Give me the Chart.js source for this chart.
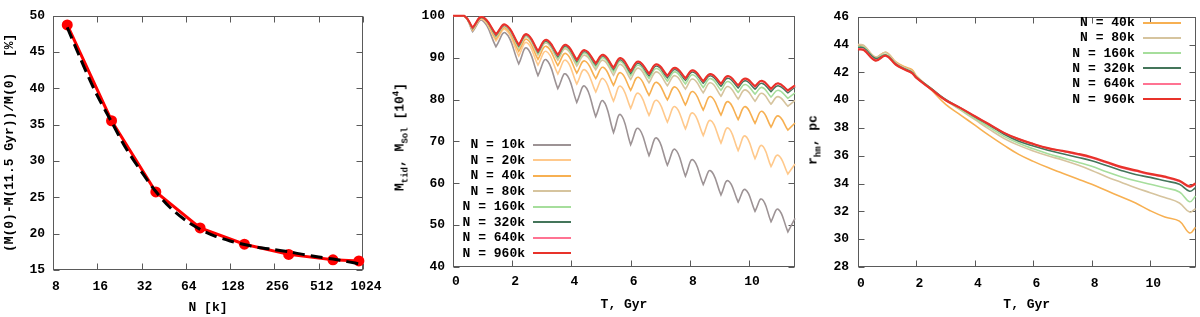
<!DOCTYPE html>
<html><head><meta charset="utf-8">
<script src="https://cdn.jsdelivr.net/npm/chart.js@4.4.1/dist/chart.umd.min.js"></script>
<style>
html,body{margin:0;padding:0;background:#fff;width:1200px;height:317px;overflow:hidden;position:relative;}
canvas{position:absolute;top:0;}
.ytitle{position:absolute;white-space:pre;font:bold 13px 'Liberation Mono','DejaVu Sans Mono',monospace;color:#000;transform:translate(-50%,-50%) rotate(-90deg);}
.ytitle sub,.ytitle sup{font-size:9px;line-height:0;}
.lrow{position:absolute;height:16px;display:flex;align-items:center;white-space:pre;font:bold 13px 'Liberation Mono','DejaVu Sans Mono',monospace;color:#000;}
.lrow i{display:inline-block;width:38px;height:2px;margin-left:8px;}
</style></head><body>
<canvas id="c1" width="400" height="317" style="left:0px"></canvas>
<canvas id="c2" width="405" height="317" style="left:395px"></canvas>
<canvas id="c3" width="400" height="317" style="left:800px"></canvas>
<div class="ytitle" style="left:400px;top:137px">M<sub>tid</sub>, M<sub>Sol</sub> [10<sup>4</sup>]</div>
<div class="ytitle" style="left:813px;top:140px">r<sub>hm</sub>, pc</div>
<script>
// ---------- Panel 1: mass loss vs N ----------
const lossN = [10, 20, 40, 80, 160, 320, 640, 960];
const lossPct = [48.75, 35.55, 25.75, 20.8, 18.55, 17.15, 16.4, 16.25];
const fitN = [10, 12, 14, 16, 20, 25, 32, 40, 50, 64, 80, 100, 128, 160, 200, 256, 320, 400, 512, 640, 800, 1024];
const fitPct = [48.4, 44.6, 41.5, 39.0, 35.4, 31.8, 28.5, 25.8, 23.6, 21.8, 20.6, 19.7, 19.0, 18.5, 18.1, 17.8, 17.5, 17.15, 16.8, 16.5, 16.15, 15.75];
const lossXTicks = [8, 16, 32, 64, 128, 256, 512, 1024];
const lossYTicks = [15, 20, 25, 30, 35, 40, 45, 50];

// ---------- Panel 2: tidal mass vs time ----------
const mtidLabels = ['N = 10k', 'N = 20k', 'N = 40k', 'N = 80k', 'N = 160k', 'N = 320k', 'N = 640k', 'N = 960k'];
const mtidStartT = [0, 0.38];
const mtidStartV = [100, 100];
const mtidDipT = [0.66, 1.45, 2.22, 2.87, 3.54, 4.18, 4.82, 5.42, 6.00, 6.62, 7.24, 7.85, 8.45, 9.05, 9.63, 10.20, 10.74, 11.31];
const mtidPeakT = [0.99, 1.77, 2.49, 3.15, 3.81, 4.45, 5.07, 5.66, 6.26, 6.88, 7.50, 8.10, 8.70, 9.29, 9.87, 10.43, 10.98];
const mtidEndT = 11.55;
const mtid10kDip  = [96.2, 92.6, 88.5, 85.7, 82.6, 79.3, 75.9, 72.1, 69.2, 66.6, 64.3, 61.7, 59.7, 57.2, 55.5, 53.3, 50.8, 48.4];
const mtid10kPeak = [98.9, 95.9, 92.3, 89.5, 86.1, 83.2, 79.7, 76.4, 73.1, 70.8, 68.1, 65.6, 63.0, 60.6, 58.5, 56.2, 53.8];
const mtid20kDip  = [96.5, 94.0, 90.4, 88.2, 86.1, 83.7, 81.8, 79.6, 77.9, 76.2, 74.6, 73.0, 71.4, 69.6, 67.8, 65.9, 64.0, 62.2];
const mtid20kPeak = [99.2, 96.7, 93.6, 91.5, 89.4, 87.1, 85.0, 83.2, 81.5, 79.8, 78.3, 76.8, 75.0, 73.2, 71.3, 69.0, 66.7];
const mtid40kDip  = [96.7, 94.5, 91.5, 89.6, 88.1, 86.3, 85.0, 83.4, 82.2, 81.0, 79.9, 78.7, 77.5, 76.3, 75.2, 74.3, 73.4, 72.7];
const mtid40kPeak = [99.4, 97.1, 94.4, 92.7, 91.0, 89.2, 87.7, 86.4, 85.3, 84.1, 83.0, 81.9, 80.7, 79.5, 78.3, 77.2, 76.1];
const mtid80kDip  = [96.8, 94.9, 92.2, 90.6, 89.4, 88.0, 87.1, 85.8, 84.8, 84.0, 83.3, 82.5, 81.6, 80.8, 80.1, 79.6, 78.9, 78.4];
const mtid80kPeak = [99.5, 97.4, 95.0, 93.5, 92.1, 90.6, 89.4, 88.4, 87.5, 86.6, 85.7, 84.9, 84.0, 83.1, 82.3, 81.5, 80.7];
const mtid160kDip  = [96.9, 95.1, 92.5, 91.0, 89.9, 88.6, 87.8, 86.6, 85.7, 85.0, 84.4, 83.7, 82.9, 82.2, 81.7, 81.3, 80.6, 80.3];
const mtid160kPeak = [99.6, 97.6, 95.2, 93.8, 92.5, 91.1, 90.0, 89.1, 88.2, 87.4, 86.6, 85.9, 85.0, 84.3, 83.6, 82.9, 82.2];
const mtid320kDip  = [97.0, 95.3, 92.8, 91.3, 90.3, 89.1, 88.3, 87.2, 86.3, 85.7, 85.2, 84.6, 83.9, 83.2, 82.8, 82.5, 81.9, 81.6];
const mtid320kPeak = [99.6, 97.7, 95.4, 94.0, 92.8, 91.5, 90.4, 89.5, 88.7, 88.0, 87.2, 86.6, 85.7, 85.1, 84.5, 83.9, 83.3];
const mtid640kDip  = [97.1, 95.5, 93.0, 91.5, 90.6, 89.4, 88.6, 87.5, 86.7, 86.1, 85.6, 85.0, 84.3, 83.7, 83.3, 83.0, 82.4, 82.0];
const mtid640kPeak = [99.7, 97.8, 95.5, 94.2, 93.0, 91.7, 90.6, 89.8, 89.0, 88.3, 87.5, 86.9, 86.0, 85.5, 84.9, 84.4, 83.8];
const mtid960kDip  = [97.2, 95.6, 93.1, 91.6, 90.7, 89.5, 88.7, 87.6, 86.8, 86.2, 85.7, 85.1, 84.4, 83.8, 83.4, 83.2, 82.6, 82.2];
const mtid960kPeak = [99.7, 97.9, 95.6, 94.3, 93.1, 91.8, 90.7, 89.9, 89.1, 88.4, 87.6, 87.0, 86.1, 85.6, 85.0, 84.5, 83.9];
const mtidEndV = [51.6, 64.6, 74.4, 79.8, 81.6, 83.0, 83.2, 83.4];
const mtidXTicks = [0, 2, 4, 6, 8, 10];
const mtidYTicks = [40, 50, 60, 70, 80, 90, 100];

// ---------- Panel 3: half-mass radius vs time ----------
const rhmLabels = ['N = 40k', 'N = 80k', 'N = 160k', 'N = 320k', 'N = 640k', 'N = 960k'];
const rhmT = [0, 0.2, 0.6, 0.95, 1.3, 1.6, 1.85, 2.0, 2.5, 3, 3.5, 4, 4.5, 5, 5.5, 6, 6.5, 7, 7.5, 8, 8.5, 9, 9.5, 10, 10.5, 11, 11.35, 11.55];
const rhm40k  = [44.0, 43.9, 43.1, 43.45, 42.75, 42.4, 42.2, 41.75, 40.75, 39.7, 38.95, 38.2, 37.45, 36.75, 36.1, 35.6, 35.15, 34.75, 34.35, 33.95, 33.5, 33.05, 32.6, 32.05, 31.6, 31.3, 30.45, 30.85];
const rhm80k  = [44.0, 43.95, 43.1, 43.45, 42.7, 42.35, 42.1, 41.7, 40.85, 40.0, 39.3, 38.6, 37.9, 37.25, 36.75, 36.35, 36.0, 35.7, 35.35, 34.95, 34.5, 34.1, 33.7, 33.35, 33.0, 32.6, 31.95, 32.2];
const rhm160k = [43.85, 43.8, 43.0, 43.3, 42.6, 42.25, 42.0, 41.65, 40.85, 40.0, 39.35, 38.7, 38.05, 37.4, 36.9, 36.5, 36.15, 35.85, 35.55, 35.25, 34.85, 34.5, 34.2, 33.95, 33.7, 33.4, 32.7, 33.1];
const rhm320k = [43.8, 43.75, 43.0, 43.25, 42.6, 42.25, 42.0, 41.65, 40.85, 40.05, 39.45, 38.8, 38.2, 37.55, 37.05, 36.7, 36.4, 36.15, 35.9, 35.65, 35.3, 34.95, 34.65, 34.45, 34.2, 33.95, 33.45, 33.7];
const rhm640k = [43.7, 43.65, 42.9, 43.2, 42.55, 42.2, 41.95, 41.6, 40.8, 40.0, 39.45, 38.85, 38.25, 37.65, 37.2, 36.85, 36.55, 36.35, 36.1, 35.85, 35.5, 35.15, 34.9, 34.65, 34.45, 34.15, 33.75, 33.95];
const rhm960k = [43.65, 43.6, 42.85, 43.2, 42.55, 42.2, 41.95, 41.6, 40.8, 40.0, 39.45, 38.85, 38.25, 37.65, 37.2, 36.85, 36.55, 36.35, 36.15, 35.9, 35.55, 35.2, 34.95, 34.7, 34.5, 34.2, 33.8, 34.0];
const rhmXTicks = [0, 2, 4, 6, 8, 10];
const rhmYTicks = [28, 30, 32, 34, 36, 38, 40, 42, 44, 46];

// ---------- styles ----------
const COL = {'10k':'#9d9395','20k':'#ffc98c','40k':'#f7b052','80k':'#d6c49e','160k':'#a6de9c','320k':'#44755a','640k':'#ff7392','960k':'#e8322a'};
const FONT = {family:"'Liberation Mono','DejaVu Sans Mono',monospace", size:13, weight:'bold'};
const FRAME = '#5a5a5a';

const gnuFrame = {
  id:'gnuFrame',
  beforeDatasetsDraw(chart){
    const {ctx, chartArea:a} = chart;
    const xs = chart.scales.x, ys = chart.scales.y;
    const L = Math.round(a.left)+0.5, R = Math.round(a.right)-0.5, T = Math.round(a.top)+0.5, B = Math.round(a.bottom)-0.5;
    ctx.save();
    ctx.strokeStyle = FRAME; ctx.lineWidth = 1;
    ctx.strokeRect(L, T, R-L, B-T);
    ctx.beginPath();
    const tl = 6;
    xs.ticks.forEach(t=>{const p = Math.round(xs.getPixelForValue(t.value))+0.5; ctx.moveTo(p,B); ctx.lineTo(p,B-tl); ctx.moveTo(p,T); ctx.lineTo(p,T+tl);});
    ys.ticks.forEach(t=>{const p = Math.round(ys.getPixelForValue(t.value))+0.5; ctx.moveTo(L,p); ctx.lineTo(L+tl,p); ctx.moveTo(R,p); ctx.lineTo(R-tl,p);});
    ctx.stroke();
    ctx.restore();
  }
};
const setTicks = arr => s => { s.ticks = arr.map(v=>({value:v})); };
function axis(type, min, max, ticks, size, horiz, tickPad, title, titlePad, cb){
  const o = {type, min, max, afterBuildTicks:setTicks(ticks),
    afterFit: horiz ? (s=>{s.height=size;}) : (s=>{s.width=size;}),
    grid:{display:false, drawTicks:false}, border:{display:false},
    ticks:{font:FONT, color:'#000', padding:tickPad, autoSkip:false, maxRotation:0, minRotation:0, labelOffset: horiz ? 3 : 0}};
  if (cb) o.ticks.callback = cb;
  if (title) o.title = {display:true, text:title, font:FONT, color:'#000', padding:titlePad};
  else o.title = {display:false};
  return o;
}
const baseOpts = (pad, x, y) => ({responsive:false, animation:false, devicePixelRatio:1, events:[],
  layout:{padding:pad}, plugins:{legend:{display:false}, tooltip:{enabled:false}}, scales:{x, y}});

// Panel 1
new Chart(document.getElementById('c1'), {
  type:'line',
  data:{datasets:[
    {label:'fit', data:fitN.map((n,i)=>({x:n,y:fitPct[i]})), borderColor:'#000', borderWidth:3, borderDash:[12,6], pointRadius:0, tension:0.3, order:0, clip:6},
    {label:'N-body', data:lossN.map((n,i)=>({x:n,y:lossPct[i]})), borderColor:'#f00', backgroundColor:'#f00', borderWidth:3, pointRadius:5.5, pointBorderWidth:0, pointBackgroundColor:'#f00', order:1, clip:8}
  ]},
  options: baseOpts({left:0,right:37,top:6,bottom:0},
    axis('logarithmic', 8, 1024, lossXTicks, 47, true, 9, 'N [k]', {top:0,bottom:1}, v=>String(v)),
    axis('linear', 15, 50, lossYTicks, 53, false, 8, '(M(0)-M(11.5 Gyr))/M(0)  [%]', {top:2,bottom:0})),
  plugins:[gnuFrame]
});

// Panel 2
const mtidDips = [mtid10kDip, mtid20kDip, mtid40kDip, mtid80kDip, mtid160kDip, mtid320kDip, mtid640kDip, mtid960kDip];
const mtidPeaks = [mtid10kPeak, mtid20kPeak, mtid40kPeak, mtid80kPeak, mtid160kPeak, mtid320kPeak, mtid640kPeak, mtid960kPeak];
function mtidPoints(k){
  const pts = mtidStartT.map((t,i)=>({x:t, y:mtidStartV[i]}));
  mtidDipT.forEach((t,i)=>{
    // cusp: the same read point twice, so the spline turns sharply there
    pts.push({x:t, y:mtidDips[k][i]}, {x:t, y:mtidDips[k][i]});
    if (i < mtidPeakT.length) pts.push({x:mtidPeakT[i], y:mtidPeaks[k][i]});
  });
  pts.push({x:mtidEndT, y:mtidEndV[k]});
  return pts;
}
const mtidKeys = ['10k','20k','40k','80k','160k','320k','640k','960k'];
new Chart(document.getElementById('c2'), {
  type:'line',
  data:{datasets: mtidLabels.map((lab,k)=>({label:lab, data:mtidPoints(k), borderColor:COL[mtidKeys[k]],
    borderWidth: k===7 ? 2 : 1.6, pointRadius:0, tension:0.45, order: mtidLabels.length-k, clip:3}))},
  options: baseOpts({left:0,right:5,top:6,bottom:0},
    axis('linear', 0, 11.55, mtidXTicks, 50, true, 7, 'T, Gyr', {top:0,bottom:4}),
    axis('linear', 40, 100, mtidYTicks, 58, false, 8, null)),
  plugins:[gnuFrame]
});

// Panel 3
const rhmSeries = [rhm40k, rhm80k, rhm160k, rhm320k, rhm640k, rhm960k];
const rhmKeys = ['40k','80k','160k','320k','640k','960k'];
new Chart(document.getElementById('c3'), {
  type:'line',
  data:{datasets: rhmLabels.map((lab,k)=>({label:lab, data:rhmT.map((t,i)=>({x:t,y:rhmSeries[k][i]})), borderColor:COL[rhmKeys[k]],
    borderWidth: k===5 ? 2.2 : 1.6, pointRadius:0, tension:0.4, order: rhmLabels.length-k, clip:3}))},
  options: baseOpts({left:0,right:4.5,top:7,bottom:0},
    axis('linear', 0, 11.55, rhmXTicks, 50, true, 9, 'T, Gyr', {top:0,bottom:4}),
    axis('linear', 28, 46, rhmYTicks, 58, false, 9, null)),
  plugins:[gnuFrame]
});

// Legends (text right-aligned, line sample on the right)
function legend(labels, keys, rightPx, y0, dy){
  labels.forEach((lab,i)=>{
    const row = document.createElement('div');
    row.className = 'lrow';
    row.style.right = rightPx + 'px';
    row.style.top = (y0 + dy*i - 8) + 'px';
    const s = document.createElement('span'); s.textContent = lab;
    const l = document.createElement('i'); l.style.background = COL[keys[i]];
    row.appendChild(s); row.appendChild(l);
    document.body.appendChild(row);
  });
}
legend(mtidLabels, mtidKeys, 629, 144.7, 15.5);
legend(rhmLabels, rhmKeys, 19.3, 22.5, 15.3);
</script>
</body></html>
